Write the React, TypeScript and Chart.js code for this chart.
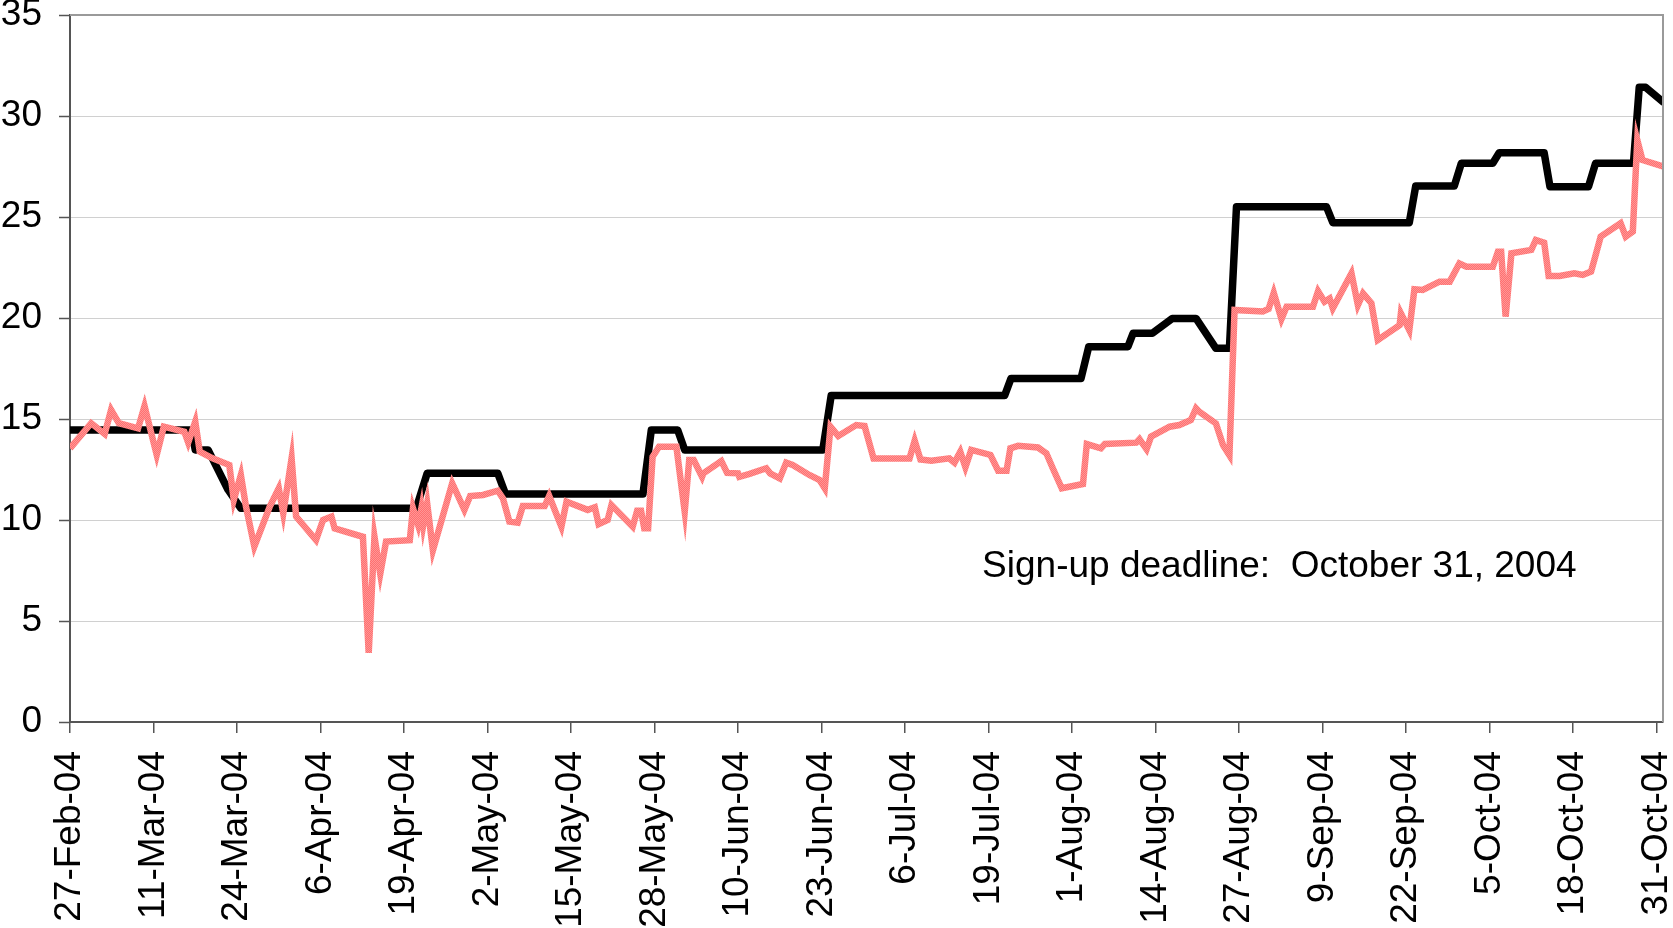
import React, { useEffect, useRef } from 'react';
import { Chart, registerables } from 'chart.js';

Chart.register(...registerables);

// X axis: days counted from 27-Feb-04
const tickLabels = [
  '27-Feb-04', '11-Mar-04', '24-Mar-04', '6-Apr-04', '19-Apr-04', '2-May-04',
  '15-May-04', '28-May-04', '10-Jun-04', '23-Jun-04', '6-Jul-04', '19-Jul-04',
  '1-Aug-04', '14-Aug-04', '27-Aug-04', '9-Sep-04', '22-Sep-04', '5-Oct-04',
  '18-Oct-04', '31-Oct-04',
];
const tickStepDays = 13;
const axisMaxDay = 248;

const yTicks = [0, 5, 10, 15, 20, 25, 30, 35];

// Black (step) series
const blackDays = [
  0, 18.9, 19.5, 21.5, 24.6, 26.6, 53.9, 55.6, 66.6, 67.8, 89.2, 90.5, 94.6, 95.7,
  117.2, 118.5, 145.5, 146.5, 157.4, 158.6, 164.7, 165.5, 168.5, 171.6, 175.3, 178.4,
  180.5, 181.6, 195.6, 196.6, 208.5, 209.5, 215.5, 216.6, 221.5, 222.5, 229.5, 230.4,
  236.4, 237.5, 243.4, 244.3, 245.3, 248,
];
const blackValues = [
  14.46, 14.46, 13.47, 13.47, 11.5, 10.58, 10.58, 12.31, 12.31, 11.29, 11.29, 14.46, 14.46, 13.47,
  13.47, 16.16, 16.16, 17.01, 17.01, 18.58, 18.58, 19.24, 19.24, 19.98, 19.98, 18.5,
  18.5, 25.51, 25.51, 24.72, 24.72, 26.53, 26.53, 27.66, 27.66, 28.18, 28.18, 26.5,
  26.5, 27.66, 27.66, 31.42, 31.42, 30.7,
];

// Pink (noisy) series
const pinkDays = [
  0, 3.3, 5.4, 6.4, 7.6, 10.6, 11.6, 13.5, 14.6, 17.8, 18.4, 19.5, 20.2, 22.2, 24.8, 25.5,
  26.6, 27.4, 28.7, 31.1, 32.5, 33.2, 34.5, 35.2, 38.3, 39.4, 40.7, 41.2, 45.6, 46.5, 47.4,
  48.3, 49.2, 52.9, 53.4, 54.2, 54.7, 55.0, 55.6, 56.5, 59.5, 61.4, 62.3, 64.3, 66.6, 67.4,
  68.4, 69.7, 70.5, 73.9, 74.6, 76.5, 77.3, 80.6, 81.7, 82.3, 83.7, 84.3, 87.6, 88.3, 88.9,
  89.4, 90.0, 90.7, 91.7, 94.4, 95.7, 96.4, 97.1, 98.4, 98.6, 101.4, 102.3, 104.0, 104.2,
  105.8, 108.4, 109.0, 110.5, 111.5, 112.5, 115.1, 116.7, 117.5, 118.4, 119.6, 122.4, 123.7,
  125.1, 130.7, 131.5, 132.4, 134.1, 136.9, 137.7, 138.6, 139.4, 140.3, 143.3, 144.5, 145.8,
  146.4, 147.6, 150.7, 152.0, 153.0, 154.4, 157.7, 158.3, 160.5, 161.1, 166.0, 166.5, 167.6,
  168.3, 171.2, 172.7, 174.5, 175.3, 175.8, 178.4, 179.5, 180.5, 181.3, 185.7, 186.6, 187.4,
  188.6, 189.4, 193.5, 194.3, 195.3, 196.1, 196.6, 199.5, 200.5, 201.3, 202.6, 203.6, 207.0,
  207.2, 208.5, 209.3, 210.6, 213.2, 214.8, 216.3, 217.4, 221.5, 222.3, 222.8, 223.5, 224.4,
  227.5, 228.2, 229.5, 230.2, 231.9, 234.2, 235.5, 236.8, 237.3, 238.3, 241.4, 242.2, 243.3,
  244.0, 244.8, 248.0,
];
const pinkValues = [
  13.55, 14.79, 14.26, 15.45, 14.79, 14.54, 15.64, 13.22, 14.62, 14.37, 13.83, 14.87, 13.38, 13.05, 12.72, 10.99,
  12.23, 10.66, 8.68, 10.66, 11.57, 10.33, 13.05, 10.17, 9.01, 10.0, 10.17, 9.59, 9.17, 3.43, 9.17,
  7.34, 8.93, 9.0, 10.58, 9.75, 10.58, 9.75, 10.83, 8.5, 11.82, 10.5, 11.19, 11.24, 11.45, 11.07,
  9.92, 9.87, 10.69, 10.69, 11.19, 9.67, 10.91, 10.5, 10.63, 9.8, 10.0, 10.74, 9.67, 10.46, 10.46,
  9.59, 9.59, 13.13, 13.63, 13.63, 10.41, 12.97, 12.97, 12.14, 12.31, 12.92, 12.33, 12.31, 12.14,
  12.28, 12.56, 12.31, 12.06, 12.84, 12.72, 12.23, 11.98, 11.57, 14.62, 14.16, 14.7, 14.65,
  13.05, 13.05, 13.93, 13.0, 12.94, 13.05, 12.84, 13.38, 12.61, 13.47, 13.22, 12.44, 12.44,
  13.55, 13.67, 13.59, 13.3, 12.56, 11.57, 11.78, 13.76, 13.55, 13.76, 13.83, 14.0, 13.5,
  14.13, 14.62, 14.7, 14.95, 15.53, 15.36, 14.78, 13.71, 13.2, 20.4, 20.32, 20.45, 21.25,
  19.95, 20.56, 20.56, 21.33, 20.81, 20.97, 20.48, 22.21, 20.64, 21.22, 20.73, 18.91, 19.65,
  20.23, 19.4, 21.42, 21.39, 21.8, 21.8, 22.7, 22.54, 22.54, 23.28, 23.28, 20.07, 23.2,
  23.37, 23.86, 23.73, 22.08, 22.08, 22.21, 22.13, 22.3, 22.87, 24.03, 24.69, 24.03, 24.28,
  28.81, 27.82, 27.5,
];

const annotationText = 'Sign-up deadline:  October 31, 2004';

const FONT = "'Liberation Sans', Arial, Helvetica, sans-serif";

export default function App() {
  const canvasRef = useRef<HTMLCanvasElement>(null);

  useEffect(() => {
    const canvas = canvasRef.current;
    if (!canvas) return;
    const ctx = canvas.getContext('2d');
    if (!ctx) return;

    const pc = document.createElement('canvas');
    pc.width = 2;
    pc.height = 2;
    const pctx = pc.getContext('2d')!;
    pctx.fillStyle = '#ff7070';
    pctx.fillRect(0, 0, 2, 2);
    pctx.fillStyle = '#ff9696';
    pctx.fillRect(0, 0, 1, 1);
    pctx.fillRect(1, 1, 1, 1);
    const pinkPattern = ctx.createPattern(pc, 'repeat') || '#ff8080';

    const framePlugin = {
      id: 'frameAndNote',
      afterDatasetsDraw(chart: any) {
        const { ctx: c, chartArea: a, scales } = chart;
        c.save();
        c.strokeStyle = '#9a9a9a';
        c.lineWidth = 2;
        c.beginPath();
        c.moveTo(a.left, a.top);
        c.lineTo(a.right, a.top);
        c.lineTo(a.right, a.bottom);
        c.stroke();
        c.fillStyle = '#000';
        c.font = `37px ${FONT}`;
        c.textAlign = 'left';
        c.textBaseline = 'alphabetic';
        c.fillText(annotationText, scales.x.getPixelForValue(142), scales.y.getPixelForValue(7.2));
        c.restore();
      },
    };

    const chart = new Chart(ctx, {
      type: 'line',
      data: {
        datasets: [
          {
            label: 'pink',
            data: pinkDays.map((d, i) => ({ x: d, y: pinkValues[i] })),
            borderColor: pinkPattern as any,
            backgroundColor: '#ff8080',
            borderWidth: 6.5,
            pointRadius: 0,
            tension: 0,
            order: 0,
          },
          {
            label: 'black',
            data: blackDays.map((d, i) => ({ x: d, y: blackValues[i] })),
            borderColor: '#000000',
            backgroundColor: '#000000',
            borderWidth: 7.5,
            borderJoinStyle: 'round',
            borderCapStyle: 'round',
            pointRadius: 0,
            tension: 0,
            order: 1,
          },
        ],
      },
      options: {
        animation: false,
        responsive: true,
        maintainAspectRatio: false,
        layout: { padding: { top: 15, right: 10, left: 0, bottom: 0 } },
        plugins: {
          legend: { display: false },
          tooltip: { enabled: false },
          title: { display: false },
        },
        scales: {
          x: {
            type: 'linear',
            min: 0,
            max: axisMaxDay,
            afterBuildTicks: (s: any) => {
              s.ticks = tickLabels.map((_, i) => ({ value: i * tickStepDays }));
            },
            afterFit: (s: any) => {
              s.height = 206;
              s.paddingLeft = 0;
              s.paddingRight = 0;
            },
            ticks: {
              autoSkip: false,
              maxRotation: 90,
              minRotation: 90,
              padding: 18,
              color: '#000',
              font: { family: FONT, size: 37 },
              callback: (v: any) => tickLabels[Math.round(Number(v) / tickStepDays)] ?? '',
            },
            grid: {
              drawOnChartArea: false,
              drawTicks: true,
              tickLength: 11,
              color: '#555555',
              lineWidth: 1.5,
            },
            border: { display: true, color: '#555555', width: 2 },
          },
          y: {
            type: 'linear',
            min: yTicks[0],
            max: yTicks[yTicks.length - 1],
            afterBuildTicks: (s: any) => {
              s.ticks = yTicks.map((v) => ({ value: v }));
            },
            afterFit: (s: any) => {
              s.width = 70;
              s.paddingTop = 0;
              s.paddingBottom = 0;
            },
            ticks: {
              padding: 17,
              color: '#000',
              font: { family: FONT, size: 37 },
            },
            grid: {
              color: '#d0d0d0',
              lineWidth: 1,
              tickLength: 11,
              tickColor: '#555555',
              tickWidth: 1.5,
            },
            border: { display: true, color: '#555555', width: 2 },
          },
        },
      },
      plugins: [framePlugin],
    } as any);

    return () => chart.destroy();
  }, []);

  return (
    <div style={{ position: 'absolute', left: 0, top: 0, width: 1673, height: 928, background: '#fff' }}>
      <canvas ref={canvasRef} />
    </div>
  );
}
